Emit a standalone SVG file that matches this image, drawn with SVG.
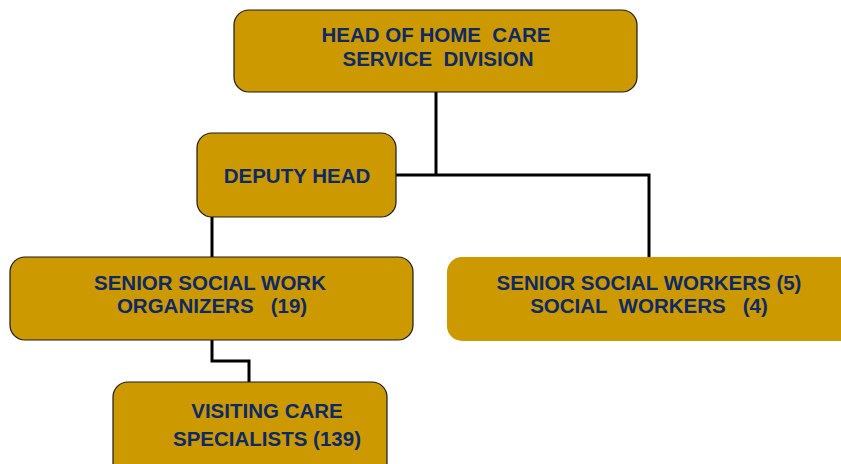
<svg xmlns="http://www.w3.org/2000/svg" width="841" height="464" viewBox="0 0 841 464">
<style>
.box{fill:#CC9900;stroke:#1a1a1a;stroke-width:1.2}
.nb{fill:#CC9900}
.t{font-family:"Liberation Sans",Arial,sans-serif;font-weight:bold;font-size:20.5px;fill:#0D2A66;text-anchor:middle}
.c{fill:none;stroke:#000;stroke-width:3}
</style>
<rect width="841" height="464" fill="#fff"/>
<g id="connectors">
<polyline class="c" points="436,92 436,175"/>
<polyline class="c" points="396,175 649,175 649,257"/>
<polyline class="c" points="212,217 212,257"/>
<polyline class="c" points="212,340 212,361 249,361 249,382"/>
</g>
<g id="head">
<rect class="box" x="234" y="10" width="403" height="82" rx="15"/>
<text class="t" xml:space="preserve" x="436" y="42">HEAD OF HOME  CARE</text>
<text class="t" xml:space="preserve" x="438" y="66">SERVICE  DIVISION</text>
</g>
<g id="deputy">
<rect class="box" x="197" y="133" width="199" height="84" rx="15"/>
<text class="t" x="297" y="183">DEPUTY HEAD</text>
</g>
<g id="organizers">
<rect class="box" x="10" y="257" width="403" height="83" rx="15"/>
<text class="t" x="210" y="290">SENIOR SOCIAL WORK</text>
<text class="t" xml:space="preserve" x="212" y="313">ORGANIZERS   (19)</text>
</g>
<g id="workers">
<rect class="nb" x="447" y="257" width="420" height="84" rx="15"/>
<text class="t" x="649" y="290">SENIOR SOCIAL WORKERS (5)</text>
<text class="t" xml:space="preserve" x="649" y="313">SOCIAL  WORKERS   (4)</text>
</g>
<g id="specialists">
<rect class="box" x="113" y="382" width="274" height="100" rx="15"/>
<text class="t" x="267" y="418">VISITING CARE</text>
<text class="t" x="267" y="446">SPECIALISTS (139)</text>
</g>
</svg>
